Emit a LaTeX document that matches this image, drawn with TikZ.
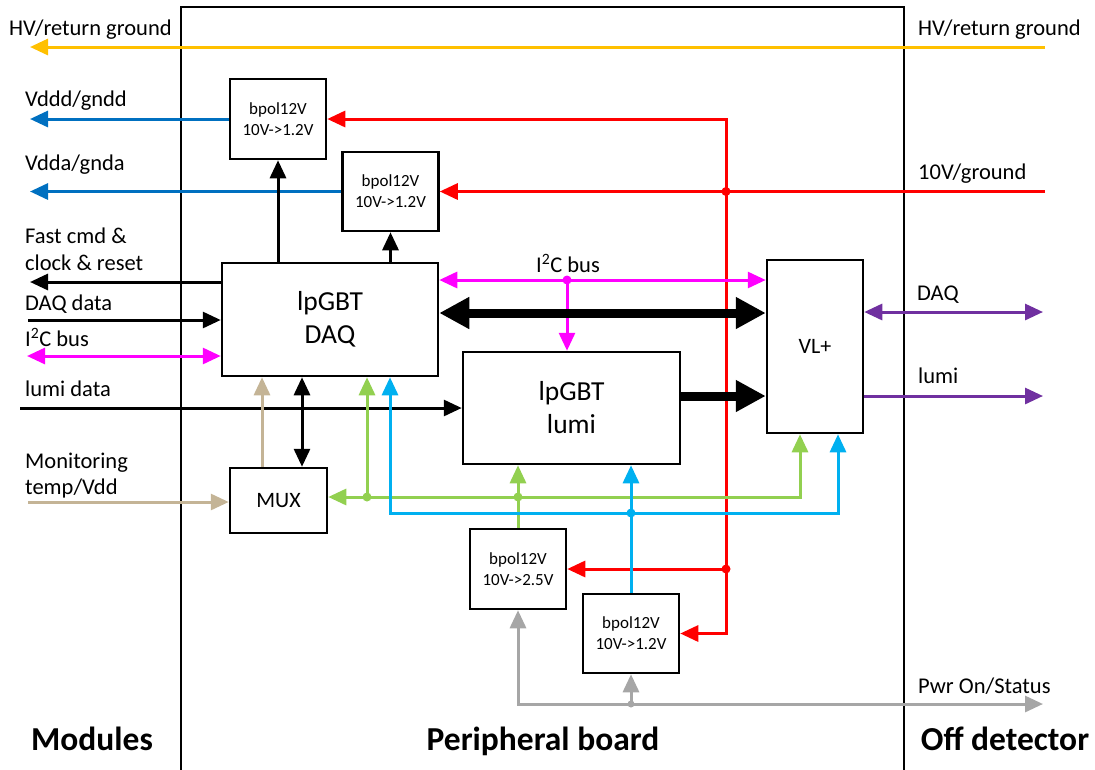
\documentclass[tikz,border=0pt]{standalone}
\usepackage{fontspec}
\setmainfont{Carlito}
\usetikzlibrary{arrows.meta}
\definecolor{hvc}{HTML}{FFC000}
\definecolor{vblue}{HTML}{0070C0}
\definecolor{pred}{HTML}{FF0000}
\definecolor{mag}{HTML}{FF00FF}
\definecolor{grn}{HTML}{92D050}
\definecolor{cyn}{HTML}{00B0F0}
\definecolor{tanc}{HTML}{C4B496}
\definecolor{purp}{HTML}{7030A0}
\definecolor{gry}{HTML}{A6A6A6}
\begin{document}
\begin{tikzpicture}[x=1pt,y=-1pt,
 box/.style={draw=black, line width=2.5pt, fill=white, inner sep=0pt, align=center},
 bpol/.style={box, minimum width=96pt, minimum height=80pt, font=\fontsize{17}{21}\selectfont},
 bigbox/.style={box, font=\fontsize{27.5}{33}\selectfont},
 lbl/.style={anchor=base west, inner sep=0pt, font=\fontsize{22.5}{27}\selectfont},
 boldlbl/.style={anchor=base, inner sep=0pt, font=\fontsize{33.5}{40}\selectfont\bfseries},
 conn/.style={line width=3pt, >={Triangle[length=18pt,width=16pt]}},
 fat/.style={line width=9pt, >={Triangle[length=30pt,width=30pt]}},
 jdot/.style={circle, fill, inner sep=0pt, minimum size=9pt},
]
\useasboundingbox (0,0) rectangle (1095,769);
% board
\draw[line width=1.8pt] (181,772) -- (181,7) -- (904,7) -- (904,772);

% boxes
\node[bpol] (b1) at (278,119) {bpol12V\\10V->1.2V};
\node[bpol, minimum height=79pt] (b2) at (390.5,191.5) {bpol12V\\10V->1.2V};
\node[bigbox, minimum width=216pt, minimum height=113pt] (daq) at (330,319.5) {lpGBT\\DAQ};
\node[box, minimum width=97pt, minimum height=65pt, font=\fontsize{22}{26}\selectfont] (mux) at (278.5,500.5) {MUX};
\node[bigbox, minimum width=217pt, minimum height=112pt] (lumi) at (571.5,408) {lpGBT\\lumi};
\node[box, minimum width=96pt, minimum height=173pt, font=\fontsize{22}{26}\selectfont] (vl) at (815,346.5) {VL+};
\node[bpol] (b3) at (518,569) {bpol12V\\10V->2.5V};
\node[bpol, minimum height=79pt] (b4) at (631,633.5) {bpol12V\\10V->1.2V};

% free ends
\coordinate (hvr) at (1045,47);
\coordinate (hvl) at (30,47);
\coordinate (vdd) at (30,119);
\coordinate (vda) at (30,192);
\coordinate (pin) at (1045,192);
\coordinate (rx) at (726,0);
\coordinate (fc) at (30,282);
\coordinate (dd) at (28,320);
\coordinate (il) at (27,356);
\coordinate (ld) at (20,408);
\coordinate (mon) at (28,502);
\coordinate (tx) at (262,0);
\coordinate (bx) at (302,0);
\coordinate (g1) at (367,497);
\coordinate (g3) at (800,497);
\coordinate (c1) at (390,513);
\coordinate (c3) at (838,513);
\coordinate (ib) at (567,280);
\coordinate (tk) at (600,313);
\coordinate (tl) at (720,396);
\coordinate (pd) at (1043,312);
\coordinate (pl) at (1043,396);
\coordinate (gr) at (1043,704);

% HV
\draw[conn, hvc, ->] (hvr) -- (hvl);
% power outputs
\draw[conn, vblue, ->] (b1.west) -- (b1.west -| vdd);
\draw[conn, vblue, ->] (b2.west) -- (b2.west -| vda);
% red power distribution
\draw[conn, pred, ->] (b2.east -| pin) -- (b2.east);
\draw[conn, pred, <->] (b1.east) -- (b1.east -| rx) -- (b4.east -| rx) -- (b4.east);
\draw[conn, pred, ->] (b3.east -| rx) -- (b3.east);
\node[jdot, pred] at (b2.east -| rx) {};
\node[jdot, pred] at (b3.east -| rx) {};
% DAQ to bpols
\draw[conn, ->] (b1.south |- daq.north) -- (b1.south);
\draw[conn, ->] (b2.south |- daq.north) -- (b2.south);
% left side signals
\draw[conn, ->] (daq.west |- fc) -- (fc);
\draw[conn, ->] (dd) -- (daq.west |- dd);
\draw[conn, mag, <->] (il) -- (daq.west |- il);
\draw[conn, ->] (ld) -- (lumi.west |- ld);
\draw[conn, tanc, ->] (mon) -- (mux.west |- mon);
\draw[conn, tanc, ->] (mux.north -| tx) -- (daq.south -| tx);
\draw[conn, <->] (mux.north -| bx) -- (daq.south -| bx);
% green 2.5V
\draw[conn, grn, <->] (mux.east |- g1) -- (g3) -- (vl.south -| g3);
\draw[conn, grn, ->] (g1) -- (daq.south -| g1);
\draw[conn, grn, ->] (b3.north) -- (lumi.south -| b3.north);
\node[jdot, grn] at (g1) {};
\node[jdot, grn] at (b3.north |- g1) {};
% cyan 1.2V
\draw[conn, cyn, <->] (daq.south -| c1) -- (c1) -- (c3) -- (vl.south -| c3);
\draw[conn, cyn, ->] (b4.north) -- (lumi.south -| b4.north);
\node[jdot, cyn] at (b4.north |- c1) {};
% I2C
\draw[conn, mag, <->] (daq.east |- ib) -- (vl.west |- ib);
\draw[conn, mag, ->] (ib) -- (lumi.north -| ib);
\node[jdot, mag] at (ib) {};
% fat data links
\draw[fat, <->] (daq.east |- tk) -- (vl.west |- tk);
\draw[fat, ->] (lumi.east |- tl) -- (vl.west |- tl);
% off detector links
\draw[conn, purp, <->] (vl.east |- pd) -- (pd);
\draw[conn, purp, ->] (vl.east |- pl) -- (pl);
% gray power on/status
\draw[conn, gry, <->] (b3.south) -- (b3.south |- gr) -- (gr);
\draw[conn, gry, ->] (b4.south |- gr) -- (b4.south);
\node[jdot, gry, minimum size=7pt] at (b4.south |- gr) {};

% labels
\node[lbl] (t1) at (9,35) {HV/return ground};
\node[lbl] (t2) at (918,35) {HV/return ground};
\node[lbl] (t3) at (25,106) {Vddd/gndd};
\node[lbl] (t4) at (25,170) {Vdda/gnda};
\node[lbl] (t5) at (25,243) {Fast cmd \&};
\node[lbl] (t6) at (25,270) {clock \& reset};
\node[lbl] (t7) at (25,310) {DAQ data};
\node[lbl] (t8) at (25,346) {I\textsuperscript{2}C bus};
\node[lbl] (t9) at (25,396) {lumi data};
\node[lbl] (t10) at (25,468) {Monitoring};
\node[lbl] (t11) at (25,494) {temp/Vdd};
\node[lbl] (t12) at (536,272) {I\textsuperscript{2}C bus};
\node[lbl] (t13) at (918,179) {10V/ground};
\node[lbl] (t14) at (917,300) {DAQ};
\node[lbl] (t15) at (918,383) {lumi};
\node[lbl] (t16) at (918,693) {Pwr On/Status};
\node[boldlbl] (m1) at (92,750) {Modules};
\node[boldlbl] (m2) at (543,750) {Peripheral board};
\node[boldlbl] (m3) at (1005,750) {Off detector};
\end{tikzpicture}
\end{document}
